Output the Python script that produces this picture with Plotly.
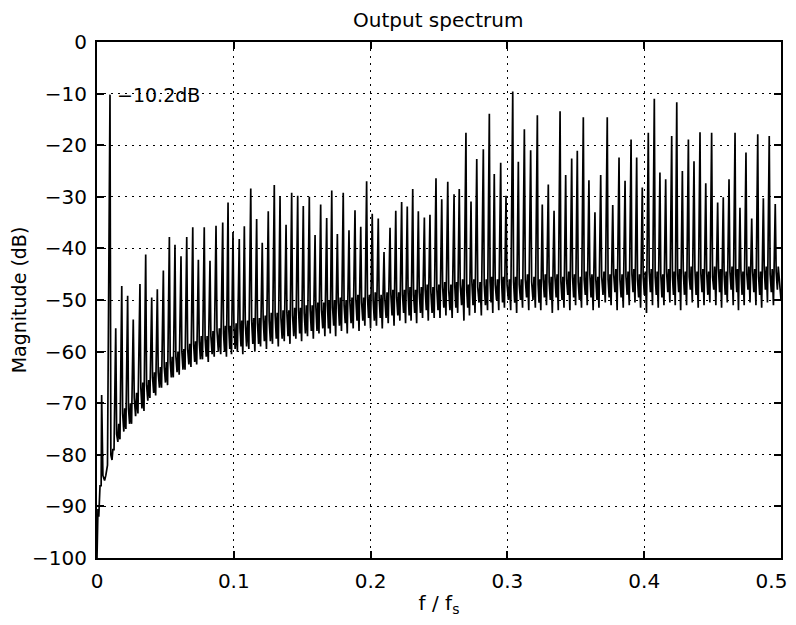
import plotly.graph_objects as go

# ---- data ----
# low-frequency start of the spectrum (f/fs, dB)
start_f = [0.0, 0.0007, 0.0013, 0.0022]
start_db = [-100.0, -90.5, -92.0, -86.0]

# spike centre frequencies (f/fs)
spike_f = [
    0.0034, 0.0095, 0.0137, 0.0181, 0.0224, 0.0265, 0.0314, 0.0356, 0.0400, 0.0441,
    0.0485, 0.0529, 0.0570, 0.0614, 0.0656, 0.0700, 0.0741, 0.0784, 0.0826, 0.0870,
    0.0919, 0.0958, 0.0994, 0.1040, 0.1077, 0.1124, 0.1167, 0.1208, 0.1252, 0.1296,
    0.1338, 0.1382, 0.1423, 0.1467, 0.1508, 0.1552, 0.1594, 0.1635, 0.1679, 0.1716,
    0.1757, 0.1800, 0.1842, 0.1886, 0.1928, 0.1971, 0.2012, 0.2056, 0.2098, 0.2142,
    0.2184, 0.2227, 0.2268, 0.2308, 0.2349, 0.2393, 0.2434, 0.2478, 0.2520, 0.2564,
    0.2610, 0.2648, 0.2697, 0.2734, 0.2776, 0.2824, 0.2868, 0.2904, 0.2951, 0.2990,
    0.3039, 0.3080, 0.3124, 0.3170, 0.3219, 0.3255, 0.3299, 0.3341, 0.3385, 0.3426,
    0.3470, 0.3511, 0.3555, 0.3596, 0.3640, 0.3682, 0.3730, 0.3770, 0.3816, 0.3860,
    0.3904, 0.3945, 0.3986, 0.4030, 0.4074, 0.4115, 0.4157, 0.4201, 0.4238, 0.4279,
    0.4323, 0.4364, 0.4408, 0.4450, 0.4493, 0.4537, 0.4578, 0.4620, 0.4664, 0.4700,
    0.4744, 0.4786, 0.4830, 0.4871, 0.4914, 0.4958,
]

# spike peak levels (dB)
spike_peak_db = [
    -68.4, -10.2, -55.5, -47.3, -49.2, -53.8, -46.9, -41.2, -49.5, -47.9,
    -44.3, -37.8, -39.3, -41.5, -37.8, -35.9, -42.2, -35.9, -42.4, -35.6,
    -35.0, -31.1, -36.8, -38.2, -35.7, -28.4, -34.3, -38.9, -32.8, -27.7,
    -30.0, -35.4, -29.2, -29.8, -31.8, -30.0, -37.4, -31.5, -34.1, -28.8,
    -37.2, -29.2, -36.5, -32.6, -35.8, -27.0, -33.3, -34.2, -40.7, -36.0,
    -32.7, -31.0, -31.9, -28.5, -32.8, -34.0, -33.5, -26.4, -30.5, -27.1,
    -29.5, -28.5, -17.6, -30.9, -22.7, -20.8, -13.9, -25.6, -23.4, -29.8,
    -9.6, -23.2, -16.9, -21.0, -14.2, -31.5, -27.6, -32.7, -13.4, -25.8,
    -22.6, -21.1, -14.6, -26.8, -33.0, -25.8, -14.6, -31.6, -22.4, -26.9,
    -18.9, -22.4, -28.2, -17.6, -11.0, -25.3, -26.6, -18.2, -11.7, -25.0,
    -18.9, -23.1, -17.5, -27.4, -17.6, -31.1, -30.1, -26.6, -17.6, -32.1,
    -21.4, -34.2, -17.9, -30.3, -18.2, -31.4,
]

# noise-floor minimum just before each spike (dB)
dip_db = [
    -86.0, -82.0, -79.0, -77.0, -75.0, -74.0, -72.0, -71.5, -69.0, -68.5,
    -67.0, -66.5, -65.0, -64.5, -63.5, -63.0, -62.5, -61.5, -62.0, -61.0,
    -60.5, -61.0, -60.5, -60.0, -60.5, -59.5, -60.0, -59.0, -59.5, -58.5,
    -59.0, -58.0, -58.5, -57.5, -58.0, -57.0, -57.5, -56.5, -57.0, -56.5,
    -57.0, -56.0, -56.5, -55.5, -56.0, -55.0, -55.5, -55.0, -55.5, -54.5,
    -55.0, -54.0, -54.5, -54.0, -54.5, -53.5, -54.0, -53.5, -53.5, -53.0,
    -53.5, -52.5, -54.0, -53.0, -52.5, -53.0, -52.0, -52.5, -52.0, -51.5,
    -52.0, -52.5, -51.5, -52.0, -51.5, -52.0, -51.0, -52.5, -52.0, -51.5,
    -52.0, -51.0, -51.5, -51.0, -52.0, -51.5, -50.5, -51.0, -52.0, -51.5,
    -51.0, -50.5, -51.5, -52.5, -51.0, -51.5, -51.0, -50.5, -51.0, -52.0,
    -51.0, -50.5, -51.5, -51.0, -50.5, -51.0, -51.5, -50.5, -51.0, -52.0,
    -51.0, -50.5, -51.0, -51.5, -50.5, -51.0,
]

# noise-floor shoulder just after each spike (dB)
shoulder_db = [
    -84.0, -80.0, -76.0, -72.0, -71.0, -69.0, -67.0, -66.5, -65.0, -64.0,
    -63.0, -62.0, -61.0, -60.0, -59.5, -58.5, -58.0, -57.5, -57.0, -56.0,
    -56.5, -55.5, -55.0, -55.5, -54.5, -54.0, -54.5, -53.5, -54.0, -53.0,
    -53.5, -52.5, -53.0, -52.0, -52.5, -52.0, -51.5, -52.0, -51.0, -51.5,
    -50.5, -51.0, -50.5, -50.0, -50.5, -49.5, -50.0, -49.5, -50.0, -49.0,
    -49.5, -49.0, -48.5, -49.0, -48.5, -48.0, -48.5, -48.0, -47.5, -48.0,
    -47.5, -47.0, -48.0, -46.5, -47.5, -47.0, -46.5, -47.0, -46.0, -47.0,
    -46.5, -47.0, -46.0, -46.5, -47.0, -46.0, -46.5, -45.5, -46.5, -46.0,
    -45.5, -46.5, -46.0, -45.0, -46.0, -45.5, -46.0, -45.0, -46.0, -45.5,
    -45.0, -46.0, -45.5, -44.5, -45.5, -45.0, -44.5, -45.5, -45.0, -44.5,
    -45.5, -44.0, -45.0, -44.5, -45.5, -44.0, -45.0, -44.5, -45.0, -44.0,
    -45.0, -44.5, -45.5, -44.0, -45.0, -44.5,
]

# mid-band level between spikes (dB)
mid_db = [
    -85.0, -81.0, -77.5, -75.5, -74.0, -72.5, -71.0, -69.5, -68.0, -67.0,
    -66.0, -65.0, -64.0, -63.5, -62.5, -62.0, -61.5, -61.0, -60.5, -60.0,
    -60.0, -59.5, -59.5, -59.0, -59.0, -58.5, -58.5, -58.0, -58.0, -57.5,
    -57.5, -57.0, -57.0, -56.5, -56.5, -56.0, -56.0, -55.5, -55.5, -55.0,
    -55.0, -54.5, -54.5, -54.0, -54.0, -53.5, -54.0, -53.5, -53.5, -53.0,
    -53.0, -52.5, -53.0, -52.5, -52.5, -52.0, -52.5, -52.0, -51.5, -52.0,
    -51.5, -51.0, -51.5, -51.0, -50.5, -51.0, -50.5, -50.0, -50.5, -50.0,
    -50.5, -50.0, -49.5, -50.0, -50.5, -49.5, -50.0, -49.5, -50.0, -49.0,
    -49.5, -50.0, -49.0, -49.5, -50.0, -49.0, -49.5, -48.5, -49.5, -49.0,
    -48.5, -49.5, -49.0, -48.5, -49.0, -49.5, -48.5, -49.0, -48.5, -49.0,
    -48.0, -49.0, -48.5, -49.0, -48.0, -48.5, -49.0, -48.0, -48.5, -49.0,
    -48.0, -48.5, -49.0, -48.0, -48.5, -48.0,
]

# small bump of the noise band before the next dip (dB)
bump_db = [
    -84.0, -79.0, -74.0, -71.0, -70.0, -68.0, -66.0, -65.5, -64.0, -63.0,
    -62.0, -61.0, -60.0, -59.5, -58.5, -58.0, -57.0, -57.0, -56.0, -55.5,
    -55.0, -55.0, -54.5, -54.0, -54.0, -53.5, -53.5, -53.0, -52.5, -52.5,
    -52.0, -52.0, -51.5, -51.5, -51.0, -51.0, -50.5, -50.5, -50.0, -50.0,
    -49.5, -50.0, -49.5, -49.0, -49.5, -49.0, -48.5, -49.0, -48.5, -48.0,
    -48.5, -48.0, -47.5, -48.0, -47.5, -47.0, -47.5, -47.0, -46.5, -47.0,
    -46.5, -46.0, -47.0, -46.0, -46.5, -46.0, -45.5, -46.0, -45.5, -46.0,
    -45.5, -46.0, -45.0, -45.5, -46.0, -45.0, -45.5, -45.0, -45.5, -44.5,
    -45.0, -45.5, -44.5, -45.0, -45.5, -44.5, -45.0, -44.0, -45.0, -44.5,
    -44.0, -45.0, -44.5, -44.0, -44.5, -45.0, -44.0, -44.5, -44.0, -44.5,
    -43.5, -44.5, -44.0, -44.5, -43.5, -44.0, -44.5, -43.5, -44.0, -44.5,
    -43.5, -44.0, -44.5, -43.5, -44.0, -43.5,
]

end_f = [0.5]
end_db = [-50.0]

x_ticks = [0, 0.1, 0.2, 0.3, 0.4, 0.5]
# the last label is padded with no-break spaces so it stays inside the page edge
x_tick_text = ["0", "0.1", "0.2", "0.3", "0.4", "0.5\u00a0\u00a0\u00a0"]
y_ticks = [0, -10, -20, -30, -40, -50, -60, -70, -80, -90, -100]
y_tick_text = ["0", "\u221210", "\u221220", "\u221230", "\u221240", "\u221250",
               "\u221260", "\u221270", "\u221280", "\u221290", "\u2212100"]

peak_label = "\u221210.2dB"
peak_label_f = 0.0135
peak_label_db = -10.2

# ---- build the line trace (shape offsets within each spike period) ----
xs = list(start_f)
ys = list(start_db)
n = len(spike_f)
for i in range(n):
    gap = spike_f[i + 1] - spike_f[i] if i + 1 < n else spike_f[i] - spike_f[i - 1]
    prev_gap = spike_f[i] - spike_f[i - 1] if i > 0 else spike_f[0] - start_f[-1]
    xs += [spike_f[i] - 0.3 * prev_gap, spike_f[i],
           spike_f[i] + 0.15 * gap, spike_f[i] + 0.35 * gap, spike_f[i] + 0.5 * gap]
    ys += [dip_db[i], spike_peak_db[i], shoulder_db[i], mid_db[i], bump_db[i]]
xs += end_f
ys += end_db

font_family = "DejaVu Sans, Verdana, sans-serif"

fig = go.Figure()
fig.add_trace(go.Scatter(x=xs, y=ys, mode="lines",
                         line=dict(color="black", width=1.7),
                         hoverinfo="skip", showlegend=False))

fig.add_annotation(x=peak_label_f, y=peak_label_db, text=peak_label,
                   showarrow=False, xanchor="left", yanchor="middle",
                   font=dict(family=font_family, size=19, color="black"))

axis_common = dict(showline=True, linecolor="black", linewidth=2, mirror="ticks",
                   ticks="inside", ticklen=7, tickwidth=1.5, tickcolor="black",
                   showgrid=True, gridcolor="black", gridwidth=1,
                   griddash="2px,5px", zeroline=False, automargin=False,
                   ticklabeloverflow="allow",
                   tickfont=dict(family=font_family, size=20, color="black"))

fig.update_xaxes(range=[0, 0.5], tickvals=x_ticks, ticktext=x_tick_text,
                 ticklabelstandoff=4,
                 title=dict(text="f / f<sub>s</sub>", standoff=4,
                            font=dict(family=font_family, size=20, color="black")),
                 **axis_common)
fig.update_yaxes(range=[-100, 0], tickvals=y_ticks, ticktext=y_tick_text,
                 ticklabelstandoff=4,
                 title=dict(text="Magnitude (dB)", standoff=4,
                            font=dict(family=font_family, size=19, color="black")),
                 **axis_common)

# the page body adds an 8px margin all round, so the figure is 16px smaller in height
fig.update_layout(
    width=788, height=609,
    margin=dict(l=89, r=15, t=34, b=59),
    paper_bgcolor="white", plot_bgcolor="white",
    title=dict(text="Output spectrum", x=0.546, xanchor="center", y=0.9805, yanchor="middle",
               font=dict(family=font_family, size=20, color="black")),
    font=dict(family=font_family, color="black"),
)

fig.write_html("out.html")
